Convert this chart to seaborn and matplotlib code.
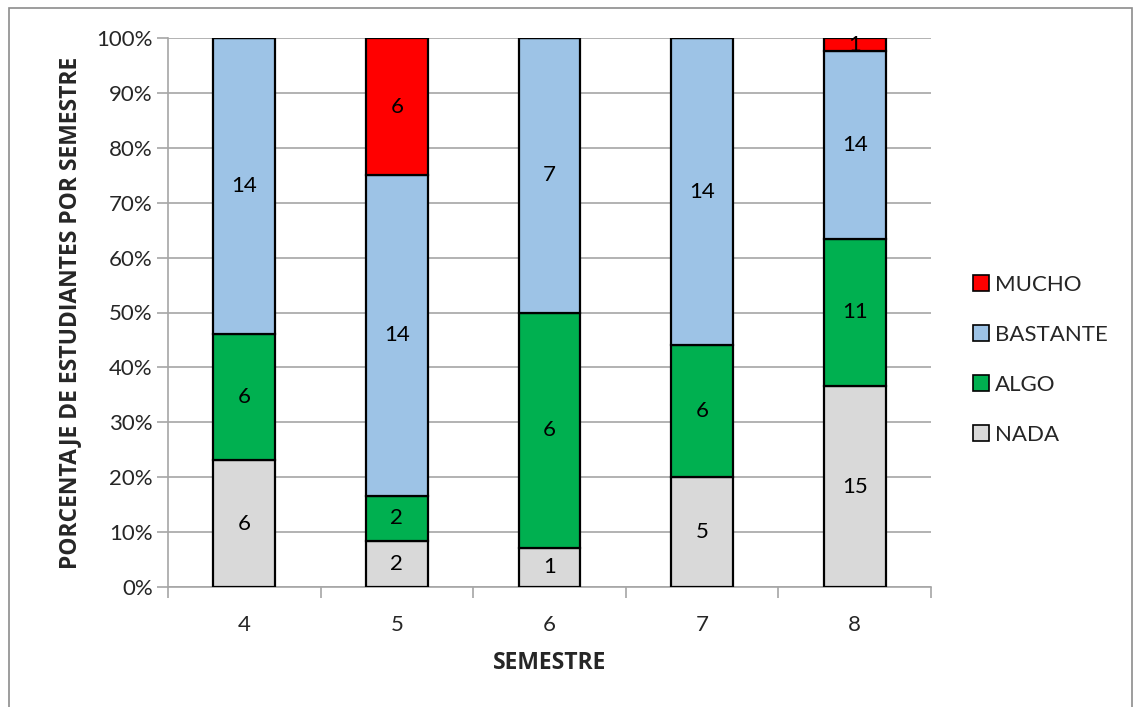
import matplotlib
matplotlib.use("Agg")
import matplotlib.pyplot as plt
from matplotlib.patches import Rectangle, Patch
from matplotlib.ticker import PercentFormatter
import numpy as np
import pandas as pd
import seaborn as sns

# Student counts per semester and response level
semestres = ["4", "5", "6", "7", "8"]
nada = [6, 2, 1, 5, 15]
algo = [6, 2, 6, 6, 11]
bastante = [14, 14, 7, 14, 14]
mucho = [0, 6, 0, 0, 1]

niveles = ["NADA", "ALGO", "BASTANTE", "MUCHO"]
colores = {"NADA": "#D9D9D9", "ALGO": "#00B050", "BASTANTE": "#9DC3E6", "MUCHO": "#FF0000"}

sns.set_theme(style="white")
plt.rcParams["font.family"] = ["Lato", "DejaVu Sans"]
negrita = dict(family=["Open Sans", "DejaVu Sans"], fontweight="bold", fontsize=16.5)

conteos = pd.DataFrame({"SEMESTRE": semestres, "NADA": nada, "ALGO": algo,
                        "BASTANTE": bastante, "MUCHO": mucho})
totales = conteos[niveles].sum(axis=1)

fig = plt.figure(figsize=(11.36, 7.07), dpi=100)
ax = fig.add_axes([168 / 1136, 1 - 587 / 707, (931 - 168) / 1136, (587 - 38) / 707])

base = np.zeros(len(semestres))
for nivel in niveles:
    pct = conteos[nivel].to_numpy() / totales.to_numpy()
    df = pd.DataFrame({"SEMESTRE": semestres, "pct": pct})
    sns.barplot(data=df, x="SEMESTRE", y="pct", bottom=base, color=colores[nivel],
                width=0.405, edgecolor="black", linewidth=1.6, ax=ax,
                saturation=1, zorder=3)
    for i, (v, p) in enumerate(zip(conteos[nivel], pct)):
        if v > 0:
            ax.text(i, base[i] + p / 2, str(v), ha="center", va="center",
                    fontsize=16, color="black", zorder=5)
    base = base + pct

ax.set_ylim(0, 1)
ax.set_xlim(-0.5, len(semestres) - 0.5)
ax.yaxis.set_major_formatter(PercentFormatter(1.0, decimals=0))
ax.set_yticks(np.arange(0, 1.01, 0.1))
ax.grid(axis="y", color="#A6A6A6", linewidth=1.2, zorder=0)
ax.set_axisbelow(True)

for s in ["top", "right"]:
    ax.spines[s].set_visible(False)
for s in ["left", "bottom"]:
    ax.spines[s].set_color("#A6A6A6")
    ax.spines[s].set_linewidth(1.2)

# y ticks drawn as short outward gridline stubs
ax.tick_params(axis="y", which="major", left=True, length=8, width=1.2,
               color="#A6A6A6", labelsize=16, pad=3)
ax.tick_params(axis="x", which="major", bottom=False, labelsize=16, pad=14)
ax.set_xticks(np.arange(-0.5, len(semestres)), minor=True)
ax.tick_params(axis="x", which="minor", bottom=True, length=8, width=1.2,
               color="#A6A6A6")

ax.set_xlabel("SEMESTRE", labelpad=12, **negrita)
ax.set_ylabel("PORCENTAJE DE ESTUDIANTES POR SEMESTRE", labelpad=10, **negrita)

handles = [Patch(facecolor=colores[n], edgecolor="black", linewidth=1.2, label=n)
           for n in reversed(niveles)]
fig.legend(handles=handles, loc="center left", bbox_to_anchor=(953 / 1136, 1 - 360 / 707),
           frameon=False, fontsize=16, handlelength=0.7, handleheight=0.7,
           handletextpad=0.3, labelspacing=1.35)

fig.patches.append(Rectangle((9 / 1136, -0.02), (1132 - 9) / 1136, 1 - 8 / 707 + 0.02,
                             transform=fig.transFigure, fill=False,
                             edgecolor="#8C8C8C", linewidth=1.2))

fig.savefig("out.png", dpi=100)
